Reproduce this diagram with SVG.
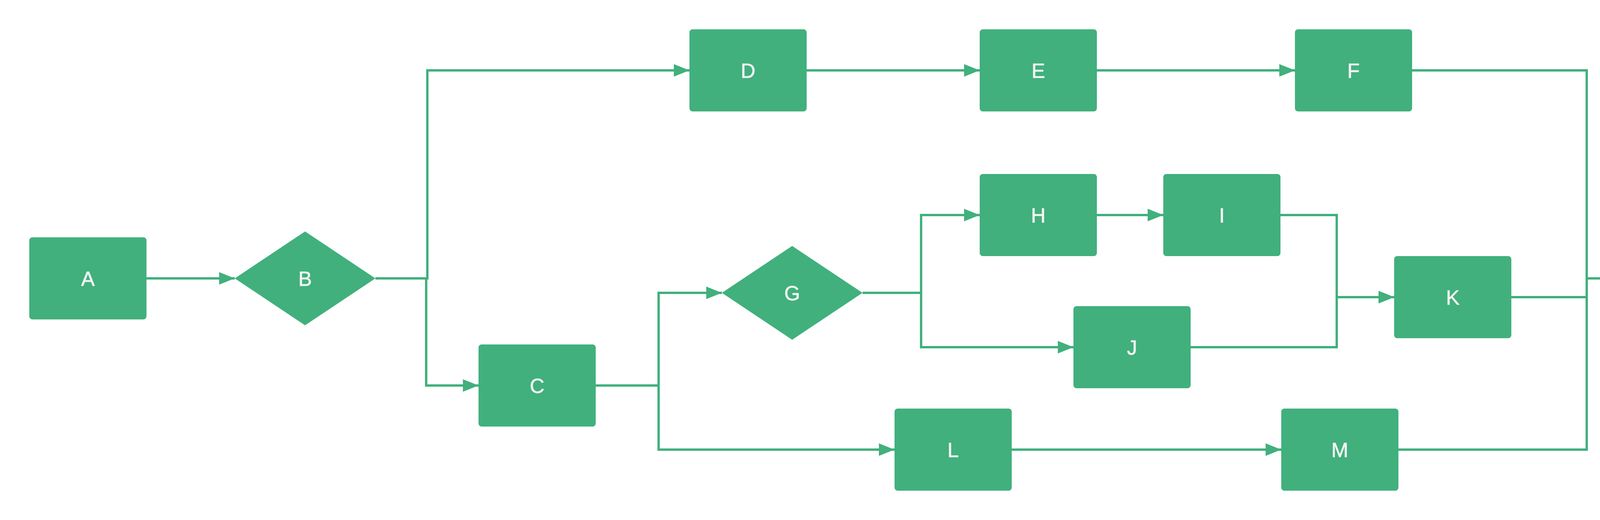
<svg xmlns="http://www.w3.org/2000/svg" width="4629" height="1330" viewBox="0 0 4629 1330">
<style>
.n{fill:#41B07C}
.t{fill:#F4F4F4;stroke:#F4F4F4;stroke-width:0.8;font-family:"Liberation Sans",Arial,sans-serif;font-size:52px;text-anchor:middle}
.c{fill:none;stroke:#41B07C;stroke-width:6;marker-end:url(#ah)}
</style>
<defs>
<marker id="ah" markerUnits="userSpaceOnUse" markerWidth="40" markerHeight="32" refX="40" refY="16" orient="auto">
<path d="M0,0 L40,16 L0,32 Z" fill="#41B07C"/>
</marker>
</defs>
<rect width="4629" height="1330" fill="#FFFFFF"/>
<g id="connectors">
<path class="c" d="M375,712 H601"/>
<path class="c" d="M961,712 H1094 V180 H1765"/>
<path class="c" d="M961,712 H1091 V986 H1225"/>
<path class="c" d="M1524,986 H1686 V749 H1848"/>
<path class="c" d="M1524,986 H1686 V1150 H2290"/>
<path class="c" d="M2065,180 H2508"/>
<path class="c" d="M2808,180 H3315"/>
<path class="c" d="M2208,749 H2358 V550 H2508"/>
<path class="c" d="M2208,749 H2358 V888 H2748"/>
<path class="c" d="M2808,550 H2978"/>
<path class="c" d="M3278,550 H3422 V760 H3569"/>
<path class="c" d="M3048,888 H3422 V760 H3569"/>
<path class="c" d="M2590,1150 H3280"/>
<path class="c" d="M3615,180 H4062 V712 H4254"/>
<path class="c" d="M3869,760 H4062 V712 H4254"/>
<path class="c" d="M3580,1150 H4062 V712 H4254"/>
</g>
<g id="A"><rect class="n" x="75" y="607" width="300" height="210" rx="8"/><text class="t" x="225" y="731">A</text></g>
<g id="B"><polygon class="n" points="601,712 781,592 961,712 781,832"/><text class="t" x="781" y="731">B</text></g>
<g id="C"><rect class="n" x="1225" y="881" width="300" height="210" rx="8"/><text class="t" x="1375" y="1005">C</text></g>
<g id="D"><rect class="n" x="1765" y="75" width="300" height="210" rx="8"/><text class="t" x="1915" y="199">D</text></g>
<g id="E"><rect class="n" x="2508" y="75" width="300" height="210" rx="8"/><text class="t" x="2658" y="199">E</text></g>
<g id="F"><rect class="n" x="3315" y="75" width="300" height="210" rx="8"/><text class="t" x="3465" y="199">F</text></g>
<g id="G"><polygon class="n" points="1848,749 2028,629 2208,749 2028,869"/><text class="t" x="2028" y="768">G</text></g>
<g id="H"><rect class="n" x="2508" y="445" width="300" height="210" rx="8"/><text class="t" x="2658" y="569">H</text></g>
<g id="I"><rect class="n" x="2978" y="445" width="300" height="210" rx="8"/><text class="t" x="3128" y="569">I</text></g>
<g id="J"><rect class="n" x="2748" y="783" width="300" height="210" rx="8"/><text class="t" x="2898" y="907">J</text></g>
<g id="K"><rect class="n" x="3569" y="655" width="300" height="210" rx="8"/><text class="t" x="3719" y="779">K</text></g>
<g id="L"><rect class="n" x="2290" y="1045" width="300" height="210" rx="8"/><text class="t" x="2440" y="1169">L</text></g>
<g id="M"><rect class="n" x="3280" y="1045" width="300" height="210" rx="8"/><text class="t" x="3430" y="1169">M</text></g>
<g id="Z"><rect class="n" x="4254" y="607" width="300" height="210" rx="8"/><text class="t" x="4404" y="731">Z</text></g>
</svg>
